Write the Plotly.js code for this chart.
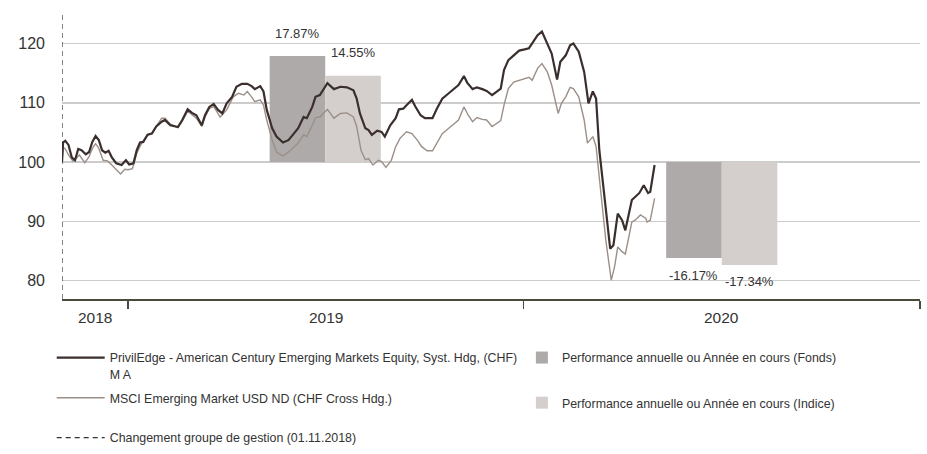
<!DOCTYPE html>
<html><head><meta charset="utf-8">
<script src="https://cdn.plot.ly/plotly-3.0.1.min.js"></script>
<style>html,body{margin:0;padding:0;background:#fff}#chart{width:927px;height:454px}</style>
</head><body><div id="chart"></div>
<script>
const fundName = 'PrivilEdge - American Century Emerging Markets Equity, Syst. Hdg, (CHF)<br>M A';
const indexName = 'MSCI Emerging Market USD ND (CHF Cross Hdg.)';
const changeName = 'Changement groupe de gestion (01.11.2018)';
const fundBarName = 'Performance annuelle ou Année en cours (Fonds)';
const indexBarName = 'Performance annuelle ou Année en cours (Indice)';

const fundDates = ['2018-11-01','2018-11-02','2018-11-04','2018-11-07','2018-11-10','2018-11-13','2018-11-16','2018-11-19','2018-11-23','2018-11-26','2018-11-29','2018-12-02','2018-12-05','2018-12-08','2018-12-11','2018-12-14','2018-12-17','2018-12-21','2018-12-26','2018-12-30','2019-01-02','2019-01-06','2019-01-09','2019-01-12','2019-01-15','2019-01-19','2019-01-23','2019-01-27','2019-02-01','2019-02-04','2019-02-09','2019-02-12','2019-02-16','2019-02-20','2019-02-25','2019-03-01','2019-03-05','2019-03-10','2019-03-13','2019-03-17','2019-03-21','2019-03-25','2019-03-29','2019-04-02','2019-04-07','2019-04-11','2019-04-16','2019-04-21','2019-04-25','2019-04-28','2019-05-03','2019-05-06','2019-05-09','2019-05-14','2019-05-18','2019-05-24','2019-05-29','2019-06-03','2019-06-07','2019-06-12','2019-06-15','2019-06-20','2019-06-23','2019-06-27','2019-07-04','2019-07-10','2019-07-16','2019-07-22','2019-07-28','2019-07-31','2019-08-03','2019-08-08','2019-08-11','2019-08-14','2019-08-19','2019-08-23','2019-08-26','2019-08-31','2019-09-05','2019-09-08','2019-09-12','2019-09-15','2019-09-20','2019-09-23','2019-09-28','2019-10-02','2019-10-09','2019-10-13','2019-10-18','2019-10-24','2019-10-29','2019-11-02','2019-11-07','2019-11-10','2019-11-15','2019-11-19','2019-11-24','2019-11-28','2019-12-03','2019-12-08','2019-12-11','2019-12-14','2019-12-18','2019-12-23','2019-12-28','2020-01-02','2020-01-06','2020-01-09','2020-01-14','2020-01-18','2020-01-23','2020-01-27','2020-02-01','2020-02-04','2020-02-09','2020-02-13','2020-02-16','2020-02-21','2020-02-26','2020-03-01','2020-03-05','2020-03-08','2020-03-11','2020-03-16','2020-03-21','2020-03-24','2020-03-28','2020-04-01','2020-04-04','2020-04-10','2020-04-13','2020-04-17','2020-04-21','2020-04-25','2020-04-27','2020-05-01'];
const fundValues = [100.0,103.3,103.6,102.9,100.8,100.3,102.2,102.0,101.3,101.7,103.4,104.4,103.7,102.0,101.6,101.9,100.8,99.8,99.5,100.3,99.6,99.8,102.0,103.3,103.4,104.6,104.8,106.0,106.8,107.1,106.2,106.1,105.9,107.1,108.9,108.3,107.9,106.2,107.9,109.3,109.8,108.8,108.2,109.9,111.0,112.7,113.2,113.2,112.8,112.3,112.8,111.9,108.8,105.7,104.3,103.3,103.7,104.8,105.7,107.6,107.4,109.3,111.0,111.3,113.3,112.3,112.7,112.6,112.1,110.7,108.2,105.7,105.4,104.6,105.3,105.1,104.3,106.2,107.4,108.9,109.0,109.6,110.5,109.4,107.9,107.4,107.4,109.0,110.7,111.6,112.4,113.0,114.5,113.4,112.3,112.6,112.3,112.0,111.3,112.0,112.4,115.5,117.2,118.0,118.8,119.0,119.2,120.0,121.4,122.0,120.0,118.3,113.9,116.9,118.0,119.7,120.0,118.6,115.2,109.9,111.9,110.7,102.0,93.6,85.4,86.0,91.3,90.2,88.5,93.6,94.1,94.8,96.1,94.8,95.0,99.5];

const indexDates = ['2018-11-01','2018-11-02','2018-11-04','2018-11-07','2018-11-11','2018-11-14','2018-11-17','2018-11-22','2018-11-26','2018-11-29','2018-12-02','2018-12-05','2018-12-09','2018-12-13','2018-12-17','2018-12-21','2018-12-25','2018-12-29','2019-01-01','2019-01-05','2019-01-09','2019-01-13','2019-01-19','2019-01-23','2019-01-27','2019-02-01','2019-02-04','2019-02-09','2019-02-12','2019-02-16','2019-02-20','2019-02-25','2019-03-01','2019-03-05','2019-03-10','2019-03-13','2019-03-17','2019-03-21','2019-03-27','2019-04-02','2019-04-08','2019-04-13','2019-04-18','2019-04-21','2019-04-25','2019-04-28','2019-05-03','2019-05-06','2019-05-09','2019-05-14','2019-05-18','2019-05-24','2019-05-29','2019-06-03','2019-06-07','2019-06-12','2019-06-15','2019-06-20','2019-06-23','2019-06-27','2019-07-04','2019-07-10','2019-07-16','2019-07-22','2019-07-28','2019-07-31','2019-08-04','2019-08-08','2019-08-11','2019-08-15','2019-08-20','2019-08-23','2019-08-27','2019-09-01','2019-09-05','2019-09-09','2019-09-15','2019-09-20','2019-09-25','2019-09-29','2019-10-04','2019-10-09','2019-10-13','2019-10-18','2019-10-24','2019-10-29','2019-11-02','2019-11-07','2019-11-11','2019-11-15','2019-11-19','2019-11-24','2019-11-28','2019-12-03','2019-12-08','2019-12-11','2019-12-14','2019-12-18','2019-12-23','2019-12-28','2020-01-02','2020-01-06','2020-01-09','2020-01-14','2020-01-18','2020-01-23','2020-01-27','2020-02-02','2020-02-05','2020-02-09','2020-02-13','2020-02-16','2020-02-21','2020-02-26','2020-02-29','2020-03-05','2020-03-08','2020-03-12','2020-03-17','2020-03-22','2020-03-25','2020-03-28','2020-04-01','2020-04-04','2020-04-10','2020-04-13','2020-04-18','2020-04-23','2020-04-24','2020-04-27','2020-05-01'];
const indexValues = [100.0,102.5,102.2,101.2,100.2,100.6,101.2,99.9,100.9,102.3,103.1,102.3,100.3,100.2,99.5,98.7,98.0,98.8,98.7,98.9,101.5,103.0,104.5,104.9,106.1,107.4,107.4,106.4,106.2,105.8,106.9,108.6,108.0,107.4,106.0,107.6,109.0,109.4,107.6,108.8,111.0,111.6,111.3,111.9,111.0,110.2,110.5,109.6,107.1,103.7,101.7,101.0,101.7,102.6,103.2,104.6,104.3,106.2,107.5,107.6,108.9,107.4,108.2,108.3,107.6,106.0,102.0,100.4,100.6,99.5,100.3,100.1,99.1,100.3,102.6,104.0,105.1,104.8,103.7,102.6,101.9,101.9,103.2,104.8,105.7,106.5,107.1,109.3,107.9,106.8,107.5,107.2,107.1,106.0,106.6,107.0,109.6,112.4,113.5,113.8,114.1,114.3,113.8,115.8,116.6,115.2,113.0,108.2,109.9,111.0,112.6,112.4,111.0,107.1,103.2,104.3,102.6,95.8,86.8,80.1,82.3,85.7,84.9,84.5,89.9,90.2,91.1,90.5,89.9,90.2,93.9];

const perfDates = ['2019-07-02','2020-07-02'];
const fundPerf = [17.87, -16.17];
const indexPerf = [14.55, -17.34];
const perfBase = 100;

const yearLabels = ['2018','2019','2020'];
const yearStarts = ['2018-11-01','2019-01-01','2020-01-01'];
const yearEnds = ['2019-01-01','2020-01-01','2021-01-01'];
const yearTicks = ['2019-01-01','2020-01-01','2021-01-01'];
const changeDate = '2018-11-01';

const xRange = ['2018-11-01','2021-01-01'];
const yRange = [76.92, 125.3];
const yTicks = [80, 90, 100, 110, 120];

const DAY = 86400000;
const barW = 51.3 * DAY;
const sans = 'Liberation Sans, Arial, Helvetica, sans-serif';
const txt = '#333333';
const legFont = {family: sans, size: 12.4, color: txt};

const traces = [
  {type:'bar', x: perfDates, y: fundPerf, base: perfBase, width: barW, offset: -barW,
   marker:{color:'#aeaaa9', line:{width:0}}, name: fundBarName, legend:'legend2', legendgroup:'f', hoverinfo:'skip'},
  {type:'bar', x: perfDates, y: indexPerf, base: perfBase, width: barW, offset: 0,
   marker:{color:'#d4cfcc', line:{width:0}}, name: indexBarName, legend:'legend2', legendgroup:'i', hoverinfo:'skip'},
  {type:'scatter', mode:'lines', x: indexDates, y: indexValues, name: indexName,
   line:{color:'#9b8f88', width:1.4}, legend:'legend', legendgroup:'b', legendrank: 2, hoverinfo:'skip'},
  {type:'scatter', mode:'lines', x: fundDates, y: fundValues, name: fundName,
   line:{color:'#3a2f2d', width:2.2}, legend:'legend', legendgroup:'a', legendrank: 1, hoverinfo:'skip'},
  {type:'scatter', mode:'lines', x: [changeDate, changeDate], y: yRange, name: changeName,
   line:{color:'#333333', width:1.2, dash:'5px,4px'}, legend:'legend3', hoverinfo:'skip', cliponaxis:false}
];

const annotations = [];
perfDates.forEach((d, i) => {
  const t = new Date(d).getTime();
  [[fundPerf[i], t - barW/2], [indexPerf[i], t + barW/2]].forEach(([p, xc]) => {
    annotations.push({x: xc, y: perfBase + p, xref:'x', yref:'y', text: p.toFixed(2) + '%',
      showarrow:false, xanchor:'center', yanchor:'middle', yshift: p > 0 ? 23 : -17,
      font:{family: sans, size:13, color: txt}});
  });
});
yearLabels.forEach((lab, i) => {
  const mid = (new Date(yearStarts[i]).getTime() + new Date(yearEnds[i]).getTime()) / 2;
  annotations.push({x: mid, y: 0, xref:'x', yref:'paper', text: lab, showarrow:false,
    xanchor:'center', yanchor:'top', yshift: -8, font:{family: sans, size:15.5, color: txt}});
});

const legBase = {xanchor:'left', yanchor:'top', yref:'container', orientation:'v', valign:'top',
  bgcolor:'rgba(0,0,0,0)', borderwidth:0, font: legFont, itemclick:false, itemdoubleclick:false};

const layout = {
  width: 927, height: 454,
  margin: {l: 62, r: 7, t: 12, b: 155, autoexpand: false},
  paper_bgcolor: '#ffffff', plot_bgcolor: '#ffffff',
  barmode: 'overlay',
  showlegend: true,
  xaxis: {type:'date', range: xRange, showgrid:false, zeroline:false, automargin:false,
    tickmode:'array', tickvals: yearTicks, ticktext: yearTicks.map(() => ''),
    ticks:'outside', ticklen: 8, tickwidth: 1.5, tickcolor:'#4b4b3c',
    showline:true, linecolor:'#4b4b3c', linewidth:1.5},
  yaxis: {range: yRange, tickmode:'array', tickvals: yTicks, ticktext: yTicks.map(String), automargin:false,
    showgrid:true, gridcolor:'#cccccc', gridwidth:1.5, zeroline:false, showline:false,
    ticks:'', ticklabelstandoff: 16, tickfont:{family: sans, size:16, color: txt}},
  legend: Object.assign({}, legBase, {x: -0.012, y: 0.2445, itemwidth: 48, tracegroupgap: 5}),
  legend2: Object.assign({}, legBase, {x: 0.536, y: 0.2445, itemwidth: 30, tracegroupgap: 26}),
  legend3: Object.assign({}, legBase, {x: -0.012, y: 0.0683, itemwidth: 48, tracegroupgap: 0}),
  annotations: annotations
};

Plotly.newPlot('chart', traces, layout, {displayModeBar:false, staticPlot:true});
</script>
</body></html>
